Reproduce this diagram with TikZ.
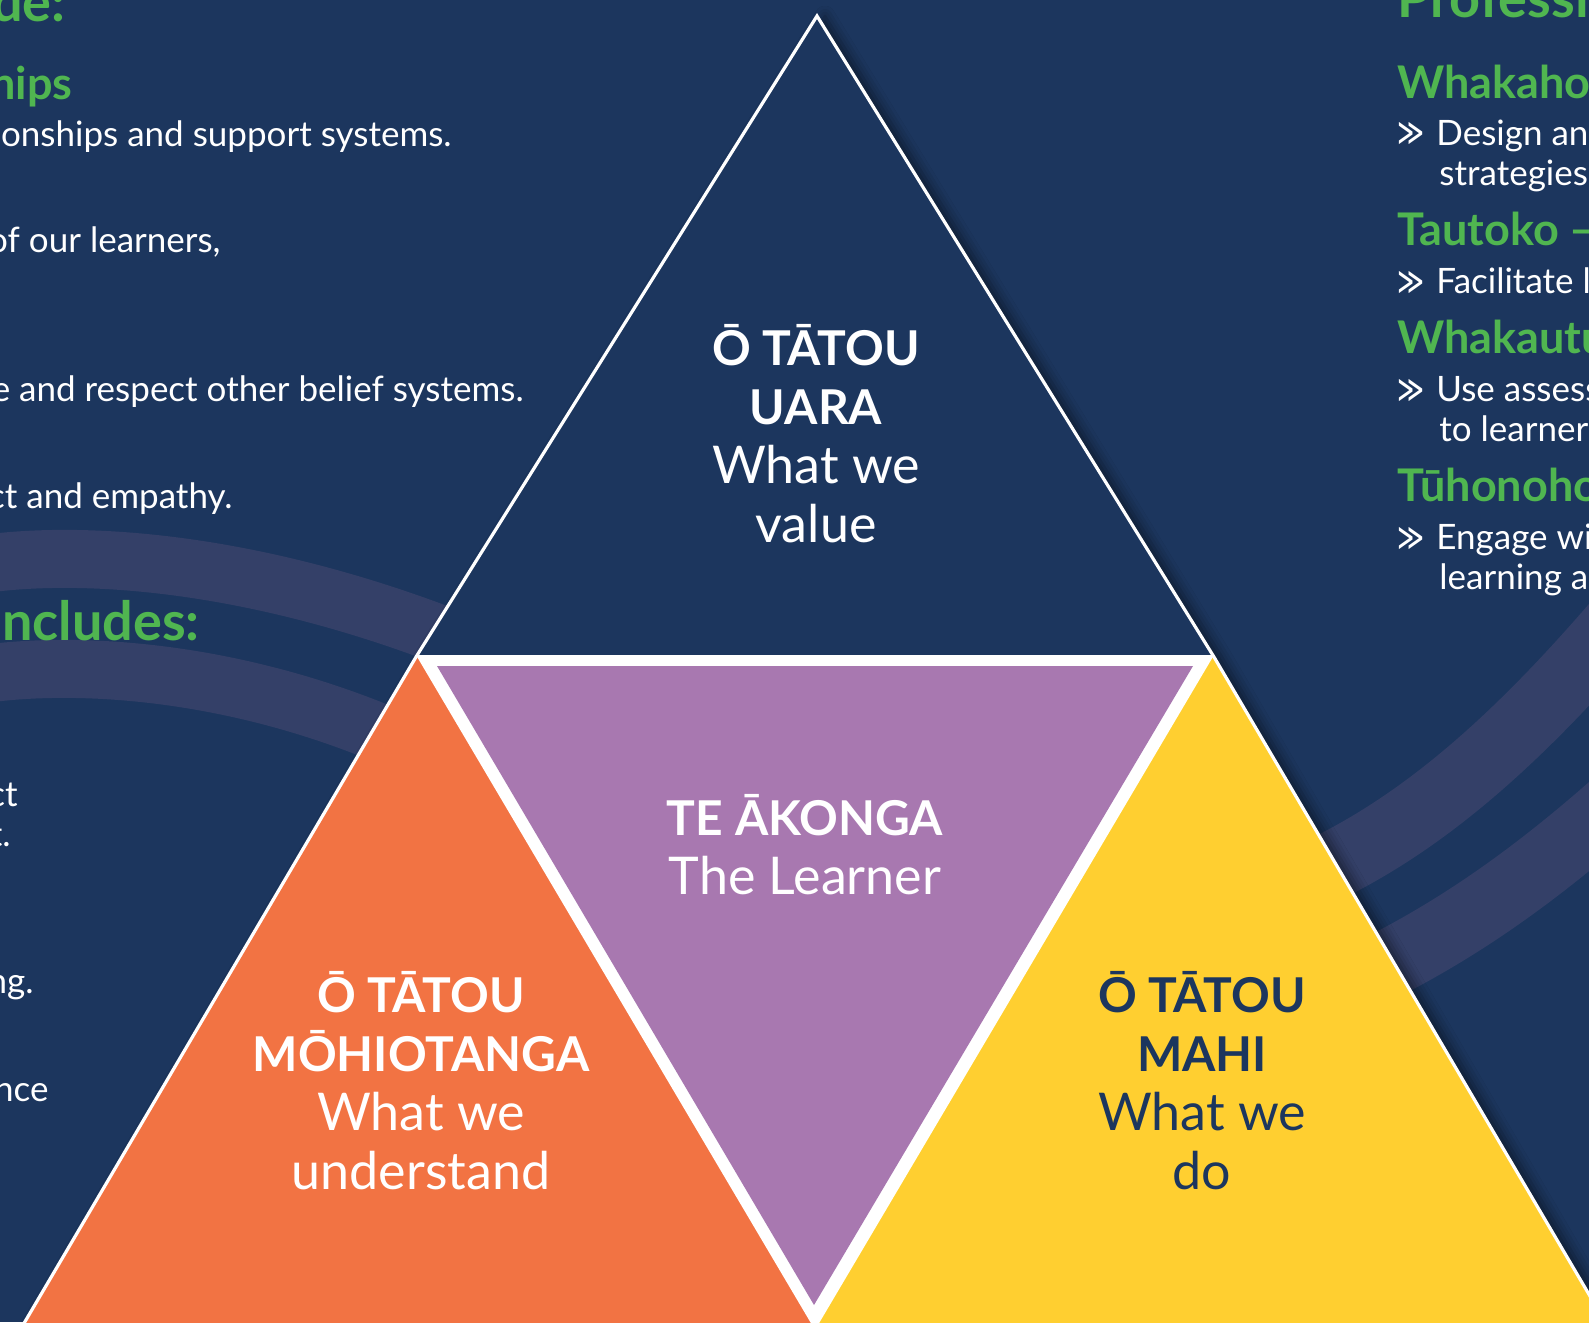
\documentclass[tikz,border=0pt]{standalone}
\usepackage{fontspec}
\usepackage{graphicx}
\setmainfont{Lato}
\newfontfamily\symfont{DejaVu Sans}
\usetikzlibrary{shadows.blur}
\definecolor{navy}{RGB}{28,54,94}
\definecolor{band}{RGB}{52,64,104}
\definecolor{leaf}{RGB}{80,182,80}
\definecolor{triorange}{RGB}{242,115,67}
\definecolor{trigold}{RGB}{255,207,48}
\definecolor{triplum}{RGB}{168,120,176}
\newcommand{\tribold}{\bfseries\fontsize{24}{29.5}\selectfont}
\newcommand{\trilight}{\mdseries\fontsize{26}{29.5}\selectfont}
\newcommand{\chevmark}{\scalebox{0.68}[1]{≫}}

\begin{document}
\begin{tikzpicture}[x=0.5pt,y=-0.5pt,
    head/.style={text=leaf,inner sep=0pt,font=\fontsize{27}{30}\selectfont\bfseries},
    subhead/.style={text=leaf,inner sep=0pt,font=\fontsize{22.5}{26}\selectfont\bfseries},
    body/.style={text=white,inner sep=0pt,font=\fontsize{17.5}{20.3}\selectfont},
    chev/.style={text=white,inner sep=0pt,font=\symfont\fontsize{19}{20}\selectfont},
    wave/.style={draw=band,line width=29pt},
    tritext/.style={align=center,inner sep=0pt,font=\fontsize{26}{29.5}\selectfont}]
  \path[use as bounding box] (0,0) rectangle (1589,1322);
  \clip (0,0) rectangle (1589,1322);
  \fill[navy] (0,0) rectangle (1589,1322);
  % waves behind the triangle
  \draw[wave] (-40,568) .. controls (60,548) and (250,555) .. (480,650);
  \draw[wave] (-40,678) .. controls (60,658) and (250,665) .. (440,760);
  \draw[wave,line width=34pt] (1290,885) .. controls (1400,840) and (1500,760) .. (1620,620);
  \draw[wave,line width=34pt] (1360,978) .. controls (1450,935) and (1530,880) .. (1620,800);

  % left column
  \node[head,anchor=base east] (secA) at (66,22) {de:};
  \node[subhead,anchor=base east] (relA) at (73,99) {hips};
  \node[body,anchor=base east] (relB) at (452,147) {onships and support systems.};
  \node[body,anchor=base east] (relC) at (221,252) {of our learners,};
  \node[body,anchor=base east] (relD) at (524,401) {e and respect other belief systems.};
  \node[body,anchor=base east] (relE) at (233,508) {ct and empathy.};
  \node[head,anchor=base east] (secB) at (200,640) {ncludes:};
  \node[body,anchor=base east] (kenA) at (18,806) {ct};
  \node[body,anchor=base east] (kenB) at (11,846) {t.};
  \node[body,anchor=base east] (kenC) at (34,993) {ng.};
  \node[body,anchor=base east] (kenD) at (49,1101) {nce};

  % right column
  \node[head,anchor=base west] (secC) at (1397,18) {Professi};
  \node[subhead,anchor=base west] (actA) at (1397,98) {Whakaho};
  \node[chev,anchor=base west] (chA) at (1397,146) {\chevmark};
  \node[body,anchor=base west] (actAa) at (1436,145) {Design an};
  \node[body,anchor=base west] (actAb) at (1439,185) {strategies};
  \node[subhead,anchor=base west] (actB) at (1397,245) {Tautoko –};
  \node[chev,anchor=base west] (chB) at (1397,294) {\chevmark};
  \node[body,anchor=base west] (actBa) at (1436,293) {Facilitate l};
  \node[subhead,anchor=base west] (actC) at (1397,353) {Whakautu};
  \node[chev,anchor=base west] (chC) at (1397,402) {\chevmark};
  \node[body,anchor=base west] (actCa) at (1436,401) {Use assess};
  \node[body,anchor=base west] (actCb) at (1439,441) {to learner};
  \node[subhead,anchor=base west] (actD) at (1397,501) {Tūhonoho};
  \node[chev,anchor=base west] (chD) at (1397,550) {\chevmark};
  \node[body,anchor=base west] (actDa) at (1436,549) {Engage wit};
  \node[body,anchor=base west] (actDb) at (1439,589) {learning a};

  % the triangle
  \coordinate (apex) at (817,16);
  \coordinate (midL) at (416,657);
  \coordinate (midR) at (1214,657);
  \coordinate (footL) at (13,1342);
  \coordinate (footR) at (1617,1342);
  \coordinate (footM) at (815,1342);
  \path[fill=navy,blur shadow={shadow xshift=4pt,shadow yshift=0pt,shadow blur radius=5pt,shadow opacity=45}]
    (apex) -- (midL) -- (footL) -- (footR) -- (midR) -- cycle;
  \fill[triorange] (midL) -- (footL) -- (footM) -- (815,657) -- cycle;
  \fill[trigold] (midR) -- (footR) -- (footM) -- (815,657) -- cycle;
  \fill[white] (416,655) -- (1214,655) -- (815,1330) -- cycle;
  \fill[triplum] (437,666) -- (1193,666) -- (814,1305) -- cycle;
  \draw[white,line width=1.6pt,line join=miter] (footL) -- (midL) -- (apex) -- (midR) -- (footR);

  \node[tritext,text=white] (uara) at (816,434)
    {\tribold Ō TĀTOU\\ \tribold UARA\\ \trilight What we\\ \trilight value};
  \node[tritext,text=white] (akonga) at (805,845)
    {\tribold TE ĀKONGA\\ \trilight The Learner};
  \node[tritext,text=white] (mohio) at (421,1081)
    {\tribold Ō TĀTOU\\ \tribold MŌHIOTANGA\\ \trilight What we\\ \trilight understand};
  \node[tritext,text=navy] (mahi) at (1202,1081)
    {\tribold Ō TĀTOU\\ \tribold MAHI\\ \trilight What we\\ \trilight do};
\end{tikzpicture}
\end{document}
